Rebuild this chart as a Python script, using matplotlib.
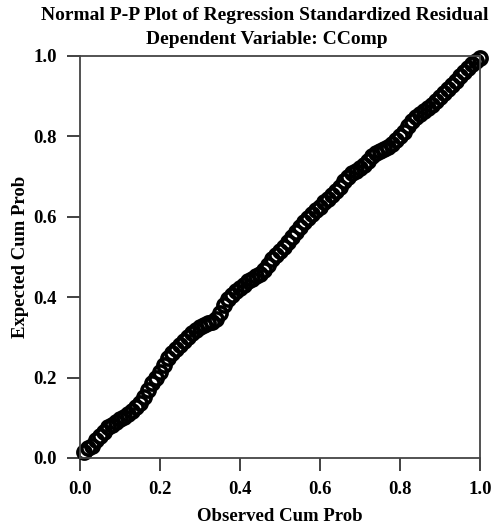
import matplotlib
matplotlib.use("Agg")
import matplotlib.pyplot as plt

# observed vs expected cumulative probabilities
observed = [0.01, 0.02, 0.03, 0.04, 0.05, 0.06, 0.07, 0.08, 0.09, 0.10,
            0.11, 0.12, 0.13, 0.14, 0.15, 0.16, 0.17, 0.18, 0.19, 0.20,
            0.21, 0.22, 0.23, 0.24, 0.25, 0.26, 0.27, 0.28, 0.29, 0.30,
            0.31, 0.32, 0.33, 0.34, 0.35, 0.36, 0.37, 0.38, 0.39, 0.40,
            0.41, 0.42, 0.43, 0.44, 0.45, 0.46, 0.47, 0.48, 0.49, 0.50,
            0.51, 0.52, 0.53, 0.54, 0.55, 0.56, 0.57, 0.58, 0.59, 0.60,
            0.61, 0.62, 0.63, 0.64, 0.65, 0.66, 0.67, 0.68, 0.69, 0.70,
            0.71, 0.72, 0.73, 0.74, 0.75, 0.76, 0.77, 0.78, 0.79, 0.80,
            0.81, 0.82, 0.83, 0.84, 0.85, 0.86, 0.87, 0.88, 0.89, 0.90,
            0.91, 0.92, 0.93, 0.94, 0.95, 0.96, 0.97, 0.98, 0.99, 1.00]
expected = [0.015, 0.025, 0.030, 0.045, 0.055, 0.065, 0.077, 0.083, 0.090, 0.097,
            0.103, 0.110, 0.118, 0.128, 0.138, 0.152, 0.168, 0.187, 0.200, 0.215,
            0.232, 0.248, 0.260, 0.270, 0.280, 0.290, 0.300, 0.310, 0.318, 0.325,
            0.331, 0.336, 0.338, 0.345, 0.360, 0.380, 0.395, 0.405, 0.415, 0.422,
            0.430, 0.440, 0.445, 0.452, 0.458, 0.468, 0.480, 0.495, 0.505, 0.515,
            0.525, 0.538, 0.550, 0.562, 0.575, 0.588, 0.598, 0.608, 0.618, 0.625,
            0.636, 0.645, 0.655, 0.665, 0.675, 0.688, 0.700, 0.708, 0.715, 0.722,
            0.730, 0.740, 0.750, 0.758, 0.763, 0.768, 0.773, 0.780, 0.790, 0.800,
            0.810, 0.825, 0.838, 0.848, 0.855, 0.862, 0.870, 0.878, 0.888, 0.898,
            0.908, 0.918, 0.928, 0.938, 0.950, 0.960, 0.970, 0.980, 0.988, 0.995]
ticks = [0.0, 0.2, 0.4, 0.6, 0.8, 1.0]
tick_labels = ["0.0", "0.2", "0.4", "0.6", "0.8", "1.0"]

plt.rcParams['font.family'] = ['Liberation Serif', 'DejaVu Serif']
plt.rcParams['font.weight'] = 'bold'

W, H = 497, 527
fig = plt.figure(figsize=(W / 100, H / 100), dpi=100)
ax = fig.add_axes([80 / W, (H - 458) / H, 400 / W, 402 / H])

ax.plot(observed, expected, 'o', mfc='none', mec='black', ms=9.5, mew=2.6,
        zorder=2, clip_on=False)

ax.set_xlim(0, 1)
ax.set_ylim(0, 1)
ax.set_xticks(ticks)
ax.set_xticklabels(tick_labels)
ax.set_yticks(ticks)
ax.set_yticklabels(tick_labels)
ax.tick_params(direction='out', length=9.5, width=1.3, labelsize=13.5, pad=7,
               color='#333333')
for s in ax.spines.values():
    s.set_linewidth(1.3)
    s.set_color('#444444')

ax.set_xlabel("Observed Cum Prob", fontsize=13.5, fontweight='bold', labelpad=7)
ax.set_ylabel("Expected Cum Prob", fontsize=13.5, fontweight='bold', labelpad=3)

fig.text(265 / W, 1 - 16 / H, "Normal P-P Plot of Regression Standardized Residual",
         ha='center', va='center', fontsize=14, fontweight='bold')
fig.text(267 / W, 1 - 39 / H, "Dependent Variable: CComp",
         ha='center', va='center', fontsize=14, fontweight='bold')

fig.savefig("out.png", dpi=100)
